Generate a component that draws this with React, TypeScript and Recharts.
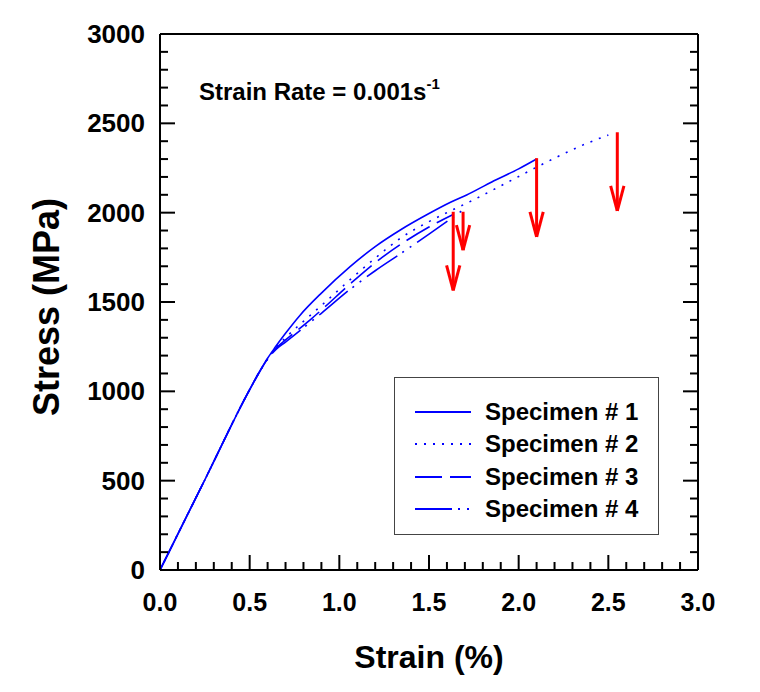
import React from 'react';
import { LineChart, Line, XAxis, YAxis, ReferenceLine, Label } from 'recharts';

// strain (%) / stress (MPa)
const spec1Strain = [0, 0.25, 0.5, 0.56, 0.6, 0.641, 0.7, 0.78, 0.9, 1.06, 1.2, 1.34, 1.5, 1.62, 1.71, 1.85, 2.0, 2.1];
const spec1Stress = [0, 505, 1010, 1118, 1185, 1245, 1325, 1425, 1550, 1698, 1810, 1903, 1995, 2058, 2099, 2172, 2245, 2300];

const spec2Strain = [0, 0.25, 0.5, 0.56, 0.6, 0.65, 0.7, 0.8, 0.9, 1.06, 1.2, 1.338, 1.5, 1.62, 1.747, 1.9, 2.045, 2.2, 2.35, 2.5];
const spec2Stress = [0, 505, 1010, 1118, 1183, 1248, 1300, 1392, 1480, 1625, 1745, 1855, 1950, 2010, 2071, 2150, 2226, 2305, 2375, 2435];

const spec3Strain = [0, 0.25, 0.5, 0.56, 0.6, 0.65, 0.7, 0.836, 0.9, 1.059, 1.2, 1.338, 1.5, 1.635];
const spec3Stress = [0, 505, 1010, 1118, 1182, 1244, 1288, 1399, 1455, 1600, 1720, 1820, 1920, 1990];

const spec4Strain = [0, 0.25, 0.5, 0.56, 0.6, 0.65, 0.7, 0.836, 0.9, 1.059, 1.2, 1.338, 1.5, 1.69];
const spec4Stress = [0, 505, 1010, 1118, 1180, 1238, 1276, 1385, 1437, 1570, 1675, 1768, 1880, 2015];

// failure arrows
const arrowStrain = [1.635, 1.69, 2.1, 2.55];
const arrowTop = [2005, 2005, 2305, 2450];
const arrowBottom = [1565, 1790, 1865, 2010];

const xTicks = Array.from({ length: 31 }, (_, i) => i / 10);
const yTicks = Array.from({ length: 31 }, (_, i) => i * 100);

const zip = (xs: number[], ys: number[]) => xs.map((x, i) => ({ strain: x, stress: ys[i] }));

const series = [
  { name: 'Specimen # 1', data: zip(spec1Strain, spec1Stress), dash: undefined },
  { name: 'Specimen # 2', data: zip(spec2Strain, spec2Stress), dash: '2 7' },
  { name: 'Specimen # 3', data: zip(spec3Strain, spec3Stress), dash: '27 8' },
  { name: 'Specimen # 4', data: zip(spec4Strain, spec4Stress), dash: '37 6 2 7 2 7' },
];

const FONT = '"Liberation Sans", Arial, Helvetica, sans-serif';
const BLUE = '#0000ff';
const RED = '#ff0000';
const HW = 0.037; // arrow head half width (strain)
const HL = 140; // arrow head length (MPa)

const isMajor = (v: number, step: number) => Math.abs(v / step - Math.round(v / step)) < 1e-6;

const BottomTick = ({ x, y, payload }: any) => {
  const major = isMajor(payload.value, 0.5);
  return (
    <g>
      <line x1={x} x2={x} y1={y} y2={y - (major ? 15 : 8)} stroke="#000" strokeWidth={2} />
      {major && (
        <text x={x} y={y + 41} textAnchor="middle" fontFamily={FONT} fontWeight="bold" fontSize={25} fill="#000">
          {payload.value.toFixed(1)}
        </text>
      )}
    </g>
  );
};

const TopTick = ({ x, y, payload }: any) => {
  const major = isMajor(payload.value, 0.5);
  return <line x1={x} x2={x} y1={y} y2={y + (major ? 15 : 8)} stroke="#000" strokeWidth={2} />;
};

const LeftTick = ({ x, y, payload }: any) => {
  const major = isMajor(payload.value, 500);
  return (
    <g>
      <line x1={x} x2={x + (major ? 15 : 8)} y1={y} y2={y} stroke="#000" strokeWidth={2} />
      {major && (
        <text x={x - 15} y={y + 9} textAnchor="end" fontFamily={FONT} fontWeight="bold" fontSize={26} fill="#000">
          {payload.value}
        </text>
      )}
    </g>
  );
};

const RightTick = ({ x, y, payload }: any) => {
  const major = isMajor(payload.value, 500);
  return <line x1={x} x2={x - (major ? 15 : 8)} y1={y} y2={y} stroke="#000" strokeWidth={2} />;
};

const XTitle = ({ viewBox }: any) => (
  <text x={viewBox.x + viewBox.width / 2} y={viewBox.y + 98} textAnchor="middle" fontFamily={FONT} fontWeight="bold" fontSize={32} fill="#000">
    Strain (%)
  </text>
);

const YTitle = ({ viewBox }: any) => {
  const cx = 38;
  const cy = viewBox.y + viewBox.height / 2 + 5;
  return (
    <text x={cx} y={cy} transform={`rotate(-90, ${cx}, ${cy})`} textAnchor="middle" dominantBaseline="central" fontFamily={FONT} fontWeight="bold" fontSize={36} fill="#000">
      Stress (MPa)
    </text>
  );
};

const LegendBox = () => (
  <div
    style={{
      position: 'absolute', left: 386, top: 369, width: 265, height: 158,
      border: '1.5px solid #444', boxSizing: 'border-box', background: '#fff',
      fontFamily: FONT, fontWeight: 'bold', fontSize: 24,
    }}
  >
    {series.map((s, i) => (
      <div key={s.name} style={{ position: 'absolute', left: 20, top: [34, 66, 99, 131][i] - 14, height: 28, display: 'flex', alignItems: 'center' }}>
        <svg width={56} height={6} style={{ display: 'block' }}>
          <line x1={0} x2={56} y1={3} y2={3} stroke={BLUE} strokeWidth={2} strokeDasharray={s.dash} />
        </svg>
        <span style={{ marginLeft: 14, whiteSpace: 'nowrap' }}>{s.name}</span>
      </div>
    ))}
  </div>
);

export default function App() {
  return (
    <div style={{ position: 'relative', width: 744, height: 676, background: '#fff' }}>
      <LineChart width={744} height={676} margin={{ top: 25, right: 53, left: 0, bottom: 0 }}>
        <XAxis
          xAxisId={0}
          type="number"
          dataKey="strain"
          domain={[0, 3]}
          ticks={xTicks}
          interval={0}
          tick={BottomTick}
          tickLine={false}
          tickSize={0}
          tickMargin={0}
          axisLine={{ stroke: '#000', strokeWidth: 2 }}
          height={114}
          allowDataOverflow
        >
          <Label content={XTitle} />
        </XAxis>
        <XAxis
          xAxisId="top"
          orientation="top"
          type="number"
          domain={[0, 3]}
          ticks={xTicks}
          interval={0}
          tick={TopTick}
          tickLine={false}
          tickSize={0}
          tickMargin={0}
          axisLine={{ stroke: '#000', strokeWidth: 2 }}
          height={1}
          allowDataOverflow
        />
        <YAxis
          yAxisId={0}
          type="number"
          domain={[0, 3000]}
          ticks={yTicks}
          interval={0}
          tick={LeftTick}
          tickLine={false}
          tickSize={0}
          tickMargin={0}
          axisLine={{ stroke: '#000', strokeWidth: 2 }}
          width={152}
          allowDataOverflow
        >
          <Label content={YTitle} />
        </YAxis>
        <YAxis
          yAxisId="right"
          orientation="right"
          type="number"
          domain={[0, 3000]}
          ticks={yTicks}
          interval={0}
          tick={RightTick}
          tickLine={false}
          tickSize={0}
          tickMargin={0}
          axisLine={{ stroke: '#000', strokeWidth: 2 }}
          width={1}
          allowDataOverflow
        />
        {series.map((s) => (
          <Line
            key={s.name}
            data={s.data}
            dataKey="stress"
            name={s.name}
            type="monotone"
            stroke={BLUE}
            strokeWidth={1.6}
            strokeDasharray={s.dash}
            dot={false}
            activeDot={false}
            isAnimationActive={false}
          />
        ))}
        {arrowStrain.map((x, i) => (
          <ReferenceLine
            key={`shaft-${i}`}
            segment={[{ x, y: arrowTop[i] }, { x, y: arrowBottom[i] }]}
            stroke={RED}
            strokeWidth={3}
          />
        ))}
        {arrowStrain.map((x, i) => (
          <ReferenceLine
            key={`hl-${i}`}
            segment={[{ x: x - HW, y: arrowBottom[i] + HL }, { x, y: arrowBottom[i] }]}
            stroke={RED}
            strokeWidth={3}
          />
        ))}
        {arrowStrain.map((x, i) => (
          <ReferenceLine
            key={`hr-${i}`}
            segment={[{ x: x + HW, y: arrowBottom[i] + HL }, { x, y: arrowBottom[i] }]}
            stroke={RED}
            strokeWidth={3}
          />
        ))}
      </LineChart>
      <div
        style={{
          position: 'absolute', left: 191, top: 72, lineHeight: '24px', whiteSpace: 'nowrap',
          fontFamily: FONT, fontWeight: 'bold', fontSize: 24, color: '#000',
        }}
      >
        Strain Rate = 0.001s
        <span style={{ fontSize: 15, verticalAlign: 'top', position: 'relative', top: -8 }}>-1</span>
      </div>
      <LegendBox />
    </div>
  );
}
